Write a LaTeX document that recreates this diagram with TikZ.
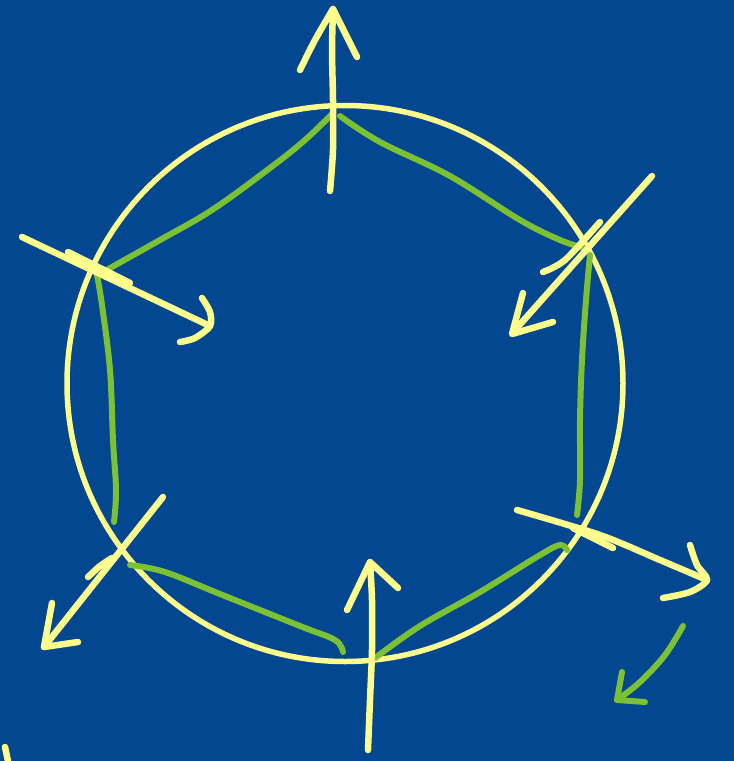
\documentclass[tikz,border=0pt]{standalone}
\definecolor{bgblue}{RGB}{3,71,145}
\definecolor{penyellow}{RGB}{252,253,140}
\definecolor{pengreen}{RGB}{124,192,52}
\tikzset{
  ystroke/.style={draw=penyellow,line width=6.5pt,line cap=round,line join=round},
  gstroke/.style={draw=pengreen,line width=6pt,line cap=round,line join=round},
  ring/.style={draw=penyellow,line width=5.5pt}
}
\begin{document}
\begin{tikzpicture}[x=1pt,y=-1pt]
\fill[bgblue] (0,0) rectangle (734,761);
\useasboundingbox (0,0) rectangle (734,761);
% circle
\coordinate (c) at (345,383.5);
\draw[ring] (c) circle[radius=278pt];
% green hexagon
\draw[gstroke] plot[smooth,tension=0.6] coordinates {(333,113) (305,140) (270,168) (212,210) (160,240) (103,272)};
\draw[gstroke] plot[smooth,tension=0.6] coordinates {(340,116) (380,142) (450,176) (520,220) (560,240) (584,248)};
\draw[gstroke] plot[smooth,tension=0.6] coordinates {(590,255) (586,300) (582,360) (580,420) (580,480) (577,515)};
\draw[gstroke] plot[smooth,tension=0.6] coordinates {(567,550) (560,545) (540,555) (480,592) (420,626) (375,658)};
\draw[gstroke] plot[smooth,tension=0.6] coordinates {(343,652) (335,640) (300,626) (220,594) (165,572) (130,565)};
\draw[gstroke] plot[smooth,tension=0.6] coordinates {(114,522) (116,490) (113,440) (110,370) (102,305) (97,275)};
% extra green arrow
\draw[gstroke] plot[smooth,tension=0.6] coordinates {(683,626) (665,655) (640,682) (617,700)};
\draw[gstroke] (622,672) -- (617,700) -- (645,702);
% top arrow
\draw[ystroke] plot[smooth] coordinates {(330,191) (333,150) (333,100) (332,50) (333,10)};
\draw[ystroke] plot[smooth] coordinates {(300,70) (315,40) (333,9)};
\draw[ystroke] (333,9) -- (357,57);
% upper right arrow
\draw[ystroke] (652,176) -- (515,330);
\draw[ystroke] (523,293) -- (512,334) -- (553,322);
\draw[ystroke] plot[smooth] coordinates {(543,272) (565,260) (600,222)};
% upper left arrow
\draw[ystroke] (22,237) -- (210,326);
\draw[ystroke] plot[smooth] coordinates {(202,298) (210,312) (210,326) (195,338) (180,342)};
\draw[ystroke] (68,252) -- (130,283);
% lower right arrow
\draw[ystroke] plot[smooth] coordinates {(517,510) (600,535) (660,560) (707,580)};
\draw[ystroke] plot[smooth] coordinates {(690,545) (697,565) (707,580) (690,592) (663,598)};
\draw[ystroke] (573,528) -- (613,548);
% lower left arrow
\draw[ystroke] (163,497) -- (44,647);
\draw[ystroke] (52,603) -- (44,647) -- (78,642);
\draw[ystroke] plot[smooth] coordinates {(88,577) (100,566) (112,558)};
% bottom arrow
\draw[ystroke] plot[smooth] coordinates {(368,750) (370,700) (372,650) (372,600) (370,562)};
\draw[ystroke] (347,610) -- (370,562) -- (398,588);
% small mark at corner
\draw[ystroke] (5,747) -- (8,761);
\end{tikzpicture}
\end{document}
